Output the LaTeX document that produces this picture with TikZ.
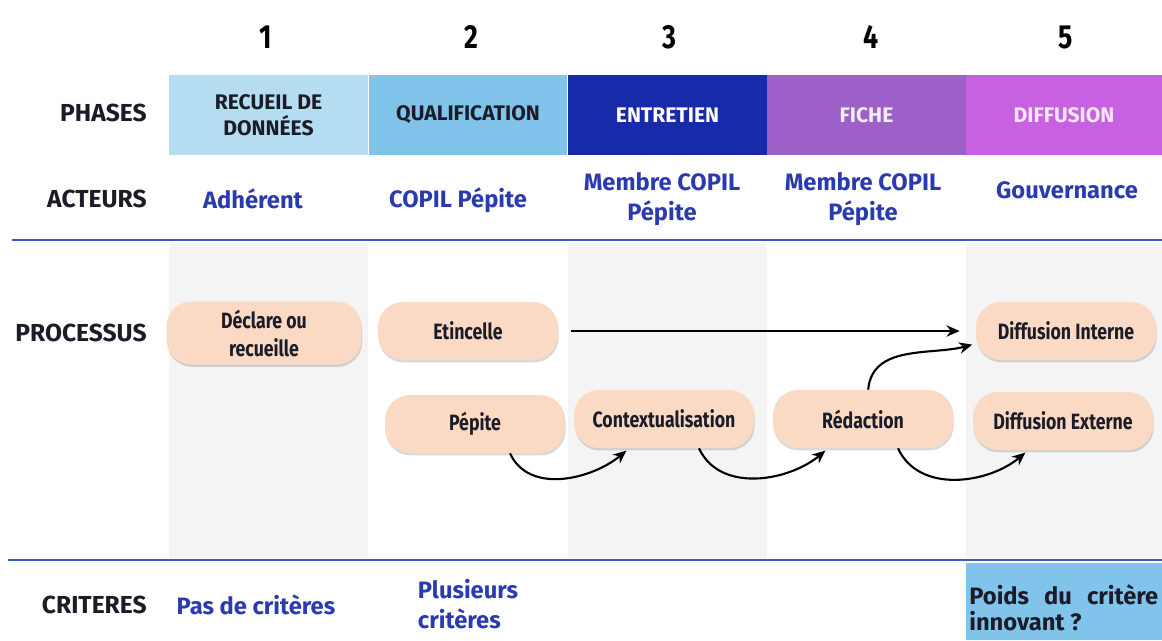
\documentclass[tikz,border=0pt]{standalone}
\usepackage{fontspec}
\setmainfont{Fira Sans}
\newfontfamily\condfont[FakeStretch=0.8]{Fira Sans}
\usetikzlibrary{arrows.meta,shadows}

\definecolor{phaseA}{RGB}{181,221,242}
\definecolor{phaseB}{RGB}{128,196,236}
\definecolor{phaseC}{RGB}{22,42,170}
\definecolor{phaseD}{RGB}{156,96,200}
\definecolor{phaseE}{RGB}{200,96,226}
\definecolor{bleuacteur}{RGB}{42,58,175}
\definecolor{ligne}{RGB}{62,88,186}
\definecolor{peche}{RGB}{250,217,197}
\definecolor{fond}{RGB}{244,244,245}
\definecolor{encre}{RGB}{28,28,40}

\begin{document}
\begin{tikzpicture}[x=0.02cm,y=0.02cm,
    phase/.style={minimum width=3.98cm, minimum height=1.6cm, inner sep=0pt, outer sep=0pt,
        align=center, font=\bfseries\fontsize{12}{15}\selectfont},
    numero/.style={font=\condfont\bfseries\fontsize{19}{21}\selectfont},
    rubrique/.style={anchor=east, inner xsep=0pt, text=encre, font=\bfseries\fontsize{14}{16}\selectfont},
    acteur/.style={text=bleuacteur, align=center, font=\bfseries\fontsize{13.5}{17}\selectfont},
    etape/.style={rounded corners=0.5cm, fill=peche, minimum width=3.6cm, minimum height=1.16cm,
        align=center, text=encre, font=\condfont\bfseries\fontsize{12.6}{16}\selectfont,
        drop shadow={shadow xshift=0.4pt, shadow yshift=-1.4pt, opacity=0.3}},
    fleche/.style={-{Stealth[length=7.5pt,width=6.5pt]}, line width=1.2pt, shorten >=2pt}
]
    \useasboundingbox (0,0) rectangle (1162,-640);

    % Fond des colonnes
    \fill[fond] (169,-243) rectangle (368,-558);
    \fill[fond] (568,-243) rectangle (767,-558);
    \fill[fond] (966,-243) rectangle (1162,-558);

    % Separateurs
    \draw[ligne, line width=1.2pt] (12,-240) -- (1162,-240);
    \draw[ligne, line width=1.2pt] (8,-560) -- (1162,-560);

    % Numeros
    \node[numero] (n1) at (266,-37) {1};
    \node[numero] (n2) at (471,-37) {2};
    \node[numero] (n3) at (669,-37) {3};
    \node[numero] (n4) at (871,-37) {4};
    \node[numero] (n5) at (1066,-37) {5};

    % Phases
    \node[phase, fill=phaseA, text=encre] (ph1) at (268.5,-115) {RECUEIL DE\\DONNÉES};
    \node[phase, fill=phaseB, text=encre] (ph2) at (468,-115) {QUALIFICATION};
    \node[phase, fill=phaseC, text=white] (ph3) at (667.5,-115) {ENTRETIEN};
    \node[phase, fill=phaseD, text=white!88!phaseD] (ph4) at (866.5,-115) {FICHE};
    \node[phase, fill=phaseE, text=white!85!phaseE, minimum width=3.92cm] (ph5) at (1064,-115) {DIFFUSION};

    % Rubriques
    \node[rubrique] (lphases) at (147,-113) {PHASES};
    \node[rubrique] (lacteurs) at (147,-199) {ACTEURS};
    \node[rubrique] (lprocessus) at (147,-333) {PROCESSUS};
    \node[rubrique] (lcriteres) at (147,-605) {CRITERES};

    % Acteurs
    \node[acteur] (a1) at (253,-199) {Adhérent};
    \node[acteur] (a2) at (458,-200) {COPIL Pépite};
    \node[acteur] (a3) at (662,-199) {Membre COPIL\\Pépite};
    \node[acteur] (a4) at (863,-199) {Membre COPIL\\Pépite};
    \node[acteur] (a5) at (1067,-190) {Gouvernance};

    % Processus
    \node[etape, minimum width=3.9cm, minimum height=1.26cm] (declare) at (264,-333) {Déclare ou\\recueille};
    \node[etape] (etincelle) at (468,-331) {Etincelle};
    \node[etape] (pepite) at (475,-424) {Pépite};
    \node[etape] (contexte) at (664,-419) {Contextualisation};
    \node[etape] (redaction) at (863,-419) {Rédaction};
    \node[etape] (diffint) at (1066,-331) {Diffusion Interne};
    \node[etape] (diffext) at (1063,-421) {Diffusion Externe};

    % Fleches
    \draw[fleche, shorten <=0.26cm, shorten >=0.32cm] (etincelle.east) -- (diffint.west);
    \draw[fleche] (redaction.80) to[out=85,in=195] (diffint.188);
    \draw[fleche] (pepite.-40) to[out=-65,in=-140] (contexte.-140);
    \draw[fleche] (contexte.-40) to[out=-65,in=-140] (redaction.-140);
    \draw[fleche] (redaction.-40) to[out=-65,in=-140] (diffext.-140);

    % Criteres
    \node[acteur] (c1) at (256,-605) {Pas de critères};
    \node[acteur, align=left] (c2) at (468,-604) {Plusieurs\\critères};
    \fill[phaseB] (966,-563) rectangle (1162,-640);
    \node[anchor=north west, text width=3.78cm, align=justify, inner sep=0pt, text=encre,
        font=\bfseries\fontsize{13.5}{15}\selectfont] (c5) at (969,-584) {Poids du critère innovant ?};
\end{tikzpicture}
\end{document}
